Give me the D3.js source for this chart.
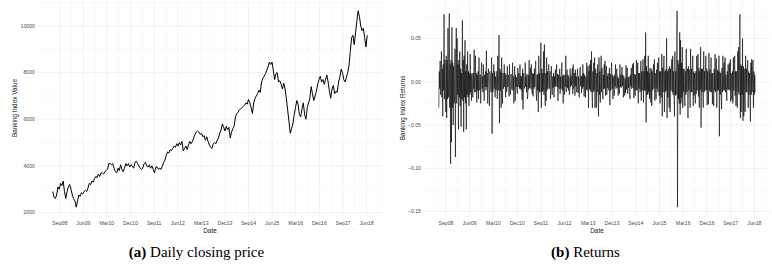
<!DOCTYPE html>
<html>
<head>
<meta charset="utf-8">
<script src="https://cdn.jsdelivr.net/npm/d3@7"></script>
<style>
  body { margin: 0; background: #fff; }
  svg { display: block; }
</style>
</head>
<body>
<div id="chart"></div>
<script>
// first and last trading day shown in both panels
var seriesStart = "2008-06-10";
var seriesEnd = "2018-06-10";

// banking index close, two readings per month (Jun08 .. Jun18)
var closingPrice = [
  2900, 2650, 2600, 2750, 3100, 3000, 3250, 3150, 3350, 2900,
  2600, 2900, 3100, 3200, 3000, 2750, 2600, 2500, 2230, 2500,
  2750, 2700, 2850, 2800, 2900, 2950, 2900, 3050, 3250, 3200,
  3350, 3300, 3450, 3550, 3500, 3650, 3550, 3700, 3700, 3650,
  3750, 3800, 3850, 4100, 4100, 4050, 4100, 3900, 3750, 3700,
  3900, 3800, 4050, 3850, 3750, 3900, 4100, 4000, 4100, 3950,
  4050, 4000, 3900, 4150, 4200, 4100, 4000, 3900, 3850, 3900,
  4100, 4150, 4000, 3950, 4050, 3900, 4000, 3850, 3700, 3950,
  3950, 3850, 3900, 3850, 4000, 4150, 4250, 4450, 4600, 4550,
  4700, 4650, 4750, 4850, 4800, 4950, 4850, 5000, 4900, 5050,
  4650, 4750, 4850, 4700, 4900, 5050, 4950, 5050, 5200, 5350,
  5450, 5500, 5450, 5350, 5400, 5250, 5300, 5100, 5250, 5050,
  4900, 4800, 4750, 4950, 5000, 4950, 5100, 5200, 5400, 5550,
  5800, 5650, 5500, 5700, 5550, 5650, 5200, 5450, 5600, 5700,
  6100, 6250, 6300, 6400, 6450, 6500, 6550, 6600, 6700, 6650,
  6850, 6700, 6500, 6250, 6700, 6900, 7000, 7100, 7250, 7150,
  7600, 7750, 7850, 7950, 8100, 8250, 8450, 8350, 8450, 8100,
  7700, 7950, 8000, 7600, 7650, 7500, 7300, 7550, 7300, 6900,
  6400, 5900, 5400, 5600, 5800, 6200, 6500, 6800, 6650, 6200,
  6100, 6450, 6700, 6200, 6000, 6500, 6700, 6900, 7400, 7100,
  6800, 7000, 7200, 7500, 7700, 7850, 7600, 7700, 7500, 7700,
  7900, 7600, 7200, 6900, 7300, 7450, 7100, 7200, 7150, 7600,
  7800, 8150, 8000, 7700, 7600, 7800, 8000, 8300, 8900, 9500,
  9600, 9200, 9700, 10200, 10650, 10400, 10000, 9800, 9900, 9500,
  9100, 9600
];

// daily returns, six readings per month (Jun08 .. Jun18)
var dailyReturns = [
  -0.030, 0.012, -0.008, 0.024, -0.015, 0.010,   0.035, -0.018, 0.015, -0.040, 0.020, -0.010,
  0.078, -0.020, 0.025, -0.012, -0.035, 0.030,   -0.042, 0.025, -0.020, 0.062, -0.018, 0.015,
  0.079, -0.030, 0.020, -0.095, 0.025, -0.070,   0.063, -0.030, 0.022, -0.050, 0.018, -0.025,
  -0.020, 0.038, -0.087, 0.020, 0.062, -0.025,   0.050, -0.015, 0.020, -0.055, 0.025, -0.018,
  0.035, -0.028, 0.015, -0.052, 0.010, -0.020,   0.071, -0.022, 0.025, -0.058, 0.030, -0.018,
  0.048, -0.025, 0.012, -0.055, 0.020, -0.015,   0.035, -0.018, 0.012, -0.028, 0.010, -0.015,
  0.032, -0.012, 0.008, -0.022, 0.010, -0.006,   -0.018, 0.010, -0.008, 0.037, -0.012, 0.006,
  0.030, -0.012, 0.010, -0.024, 0.008, -0.010,   0.012, -0.020, 0.028, -0.006, -0.010, 0.008,
  -0.025, 0.010, 0.022, -0.008, 0.006, -0.012,   0.020, -0.009, -0.022, 0.008, -0.006, 0.012,
  -0.010, 0.036, -0.006, 0.010, -0.025, 0.008,   0.015, -0.010, -0.028, 0.012, 0.006, -0.008,
  -0.012, 0.028, -0.060, 0.010, -0.012, 0.008,   0.020, -0.008, 0.012, -0.018, 0.006, -0.010,
  -0.008, 0.012, -0.020, 0.030, -0.010, 0.006,   0.054, -0.048, 0.015, -0.010, 0.012, -0.030,
  0.028, -0.012, -0.025, 0.010, -0.008, 0.006,   0.020, -0.006, 0.010, -0.018, 0.008, -0.012,
  -0.010, 0.018, -0.006, 0.008, 0.005, -0.017,   0.020, -0.007, -0.015, 0.006, 0.009, -0.009,
  -0.008, 0.022, -0.010, 0.006, -0.025, 0.006,   0.018, -0.022, 0.008, -0.006, 0.005, -0.010,
  -0.014, 0.016, -0.006, 0.010, 0.005, -0.008,   0.020, -0.008, 0.007, -0.010, 0.006, -0.021,
  0.015, -0.032, 0.010, 0.006, -0.008, -0.005,   0.022, -0.006, 0.006, -0.012, 0.009, -0.020,
  -0.015, 0.008, -0.009, 0.025, -0.007, 0.008,   0.016, -0.008, 0.020, -0.007, -0.014, 0.010,
  -0.017, 0.009, -0.008, 0.015, -0.006, 0.011,   0.024, -0.012, -0.022, 0.008, -0.010, 0.009,
  -0.035, 0.030, -0.012, 0.010, -0.012, 0.018,   0.045, -0.030, 0.015, -0.012, 0.010, -0.010,
  0.035, -0.015, 0.043, -0.012, -0.028, 0.010,   -0.022, 0.028, -0.010, 0.012, -0.008, 0.012,
  0.020, -0.008, 0.008, 0.012, -0.020, -0.006,   0.018, -0.008, -0.015, 0.006, -0.007, 0.010,
  -0.018, 0.006, -0.006, 0.014, -0.005, 0.008,   0.020, -0.006, 0.009, -0.022, 0.008, -0.005,
  -0.008, 0.015, -0.014, 0.006, -0.008, 0.010,   0.022, -0.010, 0.007, -0.025, 0.008, -0.010,
  -0.015, 0.008, -0.006, 0.030, -0.012, 0.006,   0.014, -0.007, 0.008, -0.010, 0.006, -0.015,
  -0.013, 0.015, -0.006, 0.007, -0.004, 0.009,   0.016, -0.014, 0.020, -0.008, -0.005, 0.010,
  -0.016, 0.014, -0.005, 0.006, -0.012, 0.007,   0.015, -0.013, 0.006, -0.008, -0.018, 0.010,
  0.017, -0.005, 0.006, -0.013, 0.007, -0.008,   0.020, -0.006, 0.010, -0.017, 0.008, -0.007,
  -0.018, 0.006, -0.009, 0.022, -0.010, 0.008,   0.018, -0.030, 0.012, -0.008, 0.020, -0.010,
  0.025, -0.012, 0.035, -0.015, -0.030, 0.012,   -0.012, 0.022, -0.010, 0.028, -0.030, 0.015,
  0.014, -0.030, 0.010, -0.012, 0.020, -0.012,   -0.040, 0.028, -0.015, 0.012, -0.024, 0.010,
  0.030, -0.012, 0.016, -0.012, -0.020, 0.008,   -0.008, 0.020, -0.008, 0.024, -0.016, 0.010,
  0.018, -0.015, 0.007, -0.007, 0.010, -0.009,   -0.010, 0.016, -0.027, 0.009, -0.010, 0.012,
  0.022, -0.008, 0.008, -0.020, 0.006, -0.006,   -0.016, 0.008, -0.005, 0.020, -0.008, 0.010,
  0.015, -0.007, 0.006, -0.016, 0.004, -0.009,   -0.014, 0.020, -0.006, 0.008, -0.007, 0.010,
  0.017, -0.005, 0.008, -0.018, 0.006, -0.006,   -0.016, 0.004, -0.013, 0.019, -0.009, 0.008,
  0.016, -0.014, 0.005, -0.007, 0.006, -0.010,   -0.020, 0.008, -0.005, 0.016, -0.008, 0.012,
  0.020, -0.007, 0.022, -0.019, 0.009, -0.010,   -0.016, 0.008, -0.010, 0.025, -0.010, 0.007,
  0.022, -0.025, 0.010, -0.008, 0.010, -0.012,   -0.010, 0.024, -0.022, 0.012, -0.010, 0.012,
  0.026, -0.024, 0.012, -0.010, 0.030, -0.010,   0.057, -0.047, 0.018, -0.015, 0.012, -0.015,
  0.030, -0.012, 0.010, -0.020, 0.016, -0.012,   -0.024, 0.015, -0.028, 0.012, -0.010, 0.014,
  0.020, -0.008, 0.026, -0.022, 0.010, -0.008,   -0.020, 0.014, -0.008, 0.022, -0.012, 0.009,
  0.028, -0.016, 0.012, -0.025, 0.012, -0.014,   -0.018, 0.032, -0.040, 0.016, -0.012, 0.015,
  0.030, -0.035, 0.012, -0.012, 0.014, -0.010,   0.050, -0.042, 0.012, -0.018, 0.015, -0.012,
  -0.030, 0.018, -0.035, 0.015, -0.010, 0.014,   0.026, -0.012, 0.030, -0.015, 0.012, -0.016,
  -0.040, 0.035, -0.016, 0.012, -0.015, 0.018,   0.082, -0.145, 0.025, -0.020, 0.020, -0.025,
  0.057, -0.038, 0.048, -0.025, 0.022, -0.018,   0.040, -0.030, 0.015, -0.012, 0.015, -0.020,
  -0.028, 0.012, -0.015, 0.038, -0.012, 0.010,   0.015, -0.042, 0.018, -0.010, 0.014, -0.010,
  -0.030, 0.038, -0.012, 0.015, -0.012, 0.015,   0.030, -0.028, 0.012, -0.016, 0.010, -0.014,
  -0.025, 0.012, -0.014, 0.030, -0.010, 0.012,   0.032, -0.017, 0.016, -0.030, 0.012, -0.009,
  0.040, -0.053, 0.015, -0.012, 0.015, -0.012,   -0.030, 0.035, -0.012, 0.012, -0.010, 0.014,
  0.030, -0.010, 0.015, -0.027, 0.012, -0.010,   -0.026, 0.033, -0.010, 0.014, -0.012, 0.010,
  0.028, -0.012, 0.010, -0.026, 0.010, -0.014,   -0.028, 0.015, -0.010, 0.032, -0.012, 0.009,
  0.027, -0.030, 0.014, -0.010, 0.012, -0.010,   0.030, -0.063, 0.012, -0.015, 0.010, -0.012,
  -0.032, 0.016, -0.012, 0.030, -0.010, 0.012,   0.022, -0.010, 0.028, -0.012, 0.008, -0.010,
  -0.022, 0.012, -0.009, 0.020, -0.009, 0.010,   0.022, -0.010, 0.026, -0.023, 0.010, -0.008,
  -0.021, 0.012, -0.025, 0.028, -0.010, 0.012,   0.030, -0.016, 0.012, -0.028, 0.012, -0.014,
  -0.030, 0.035, -0.012, 0.040, -0.015, 0.012,   0.078, -0.042, 0.020, -0.035, 0.018, -0.015,
  0.050, -0.045, 0.018, -0.040, 0.015, -0.020,   -0.035, 0.030, -0.012, 0.015, -0.012, 0.014,
  0.025, -0.030, 0.012, -0.015, 0.010, -0.012,   -0.046, 0.022, -0.015, 0.026, -0.012, 0.010,
  0.025, -0.030, 0.012, -0.015, 0.008, -0.012
];

var dateTicks = ["Sep08", "Jun09", "Mar10", "Dec10", "Sep11", "Jun12", "Mar13",
                 "Dec13", "Sep14", "Jun15", "Mar16", "Dec16", "Sep17", "Jun18"];
var priceTicks = [2000, 4000, 6000, 8000, 10000];
var returnTicks = [-0.15, -0.10, -0.05, 0.00, 0.05];

var width = 772, height = 264;
var panelTop = 1, panelBottom = 217;
var parseTick = d3.timeParse("%b%y");
var parseDay = d3.timeParse("%Y-%m-%d");

var svg = d3.select("#chart").append("svg")
  .attr("width", width)
  .attr("height", height);

// evenly spaced trading dates for a series of n readings
function datesFor(n) {
  var t0 = parseDay(seriesStart).getTime(), t1 = parseDay(seriesEnd).getTime();
  return d3.range(n).map(function(i) { return new Date(t0 + i * (t1 - t0) / (n - 1)); });
}

// ggplot-like default expansion of 5% on both ends
function expand(ext) {
  var pad = (ext[1] - ext[0]) * 0.05;
  return [ext[0] - pad, ext[1] + pad];
}

function drawPanel(opts) {
  var dates = datesFor(opts.values.length);
  var points = opts.values.map(function(v, i) { return { date: dates[i], value: v }; });

  var x = d3.scaleTime()
    .domain(expand(d3.extent(dates, function(d) { return d.getTime(); })))
    .range([opts.left, opts.right]);
  var y = d3.scaleLinear()
    .domain(expand(d3.extent(opts.values)))
    .range([panelBottom, panelTop]);

  var g = svg.append("g");

  // minor gridlines sit half way between the majors
  var majorX = dateTicks.map(parseTick);
  var minorX = [];
  majorX.forEach(function(d, i) {
    var next = i < majorX.length - 1 ? majorX[i + 1] : null;
    var prev = i > 0 ? majorX[i - 1] : null;
    if (i === 0) minorX.push(new Date(d.getTime() - (majorX[1] - d) / 2));
    if (next) minorX.push(new Date((d.getTime() + next.getTime()) / 2));
    else minorX.push(new Date(d.getTime() + (d - prev) / 2));
  });
  var step = opts.yTicks[1] - opts.yTicks[0];
  var minorY = opts.yTicks.map(function(v) { return v - step / 2; })
    .concat([opts.yTicks[opts.yTicks.length - 1] + step / 2])
    .filter(function(v) { return v >= y.domain()[0] && v <= y.domain()[1]; });

  g.selectAll(".minor-x").data(minorX).enter().append("line")
    .attr("x1", function(d) { return x(d); }).attr("x2", function(d) { return x(d); })
    .attr("y1", panelTop).attr("y2", panelBottom)
    .attr("stroke", "#f3f3f3").attr("stroke-width", 0.5);
  g.selectAll(".minor-y").data(minorY).enter().append("line")
    .attr("x1", opts.left).attr("x2", opts.right)
    .attr("y1", function(d) { return y(d); }).attr("y2", function(d) { return y(d); })
    .attr("stroke", "#f3f3f3").attr("stroke-width", 0.5);
  g.selectAll(".major-x").data(majorX).enter().append("line")
    .attr("x1", function(d) { return x(d); }).attr("x2", function(d) { return x(d); })
    .attr("y1", panelTop).attr("y2", panelBottom)
    .attr("stroke", "#ebebeb").attr("stroke-width", 0.7);
  g.selectAll(".major-y").data(opts.yTicks).enter().append("line")
    .attr("x1", opts.left).attr("x2", opts.right)
    .attr("y1", function(d) { return y(d); }).attr("y2", function(d) { return y(d); })
    .attr("stroke", "#ebebeb").attr("stroke-width", 0.7);

  var line = d3.line()
    .x(function(d) { return x(d.date); })
    .y(function(d) { return y(d.value); });

  g.append("path")
    .datum(points)
    .attr("d", line)
    .attr("fill", "none")
    .attr("stroke", "#000")
    .attr("stroke-width", opts.strokeWidth)
    .attr("stroke-linejoin", "round");

  // tick labels
  g.selectAll(".xlab").data(majorX).enter().append("text")
    .attr("x", function(d) { return x(d); })
    .attr("y", 225)
    .attr("text-anchor", "middle")
    .attr("font-family", "'Liberation Sans', Arial, sans-serif")
    .attr("font-size", 5.2)
    .attr("fill", "#4d4d4d")
    .text(function(d, i) { return dateTicks[i]; });

  g.selectAll(".ylab").data(opts.yTicks).enter().append("text")
    .attr("x", opts.left - 2)
    .attr("y", function(d) { return y(d) + 1.8; })
    .attr("text-anchor", "end")
    .attr("font-family", "'Liberation Sans', Arial, sans-serif")
    .attr("font-size", 5.2)
    .attr("fill", "#4d4d4d")
    .text(opts.yFormat);

  // axis titles
  g.append("text")
    .attr("x", (opts.left + opts.right) / 2)
    .attr("y", 233)
    .attr("text-anchor", "middle")
    .attr("font-family", "'Liberation Sans', Arial, sans-serif")
    .attr("font-size", 6.4)
    .attr("fill", "#222")
    .text("Date");

  g.append("text")
    .attr("transform", "translate(" + opts.titleX + ",108) rotate(-90)")
    .attr("text-anchor", "middle")
    .attr("font-family", "'Liberation Sans', Arial, sans-serif")
    .attr("font-size", 6.4)
    .attr("fill", "#222")
    .text(opts.yTitle);

  // sub-figure caption
  var cap = g.append("text")
    .attr("x", opts.captionX)
    .attr("y", 256.5)
    .attr("text-anchor", "middle")
    .attr("font-family", "'Liberation Serif', 'Times New Roman', serif")
    .attr("font-size", 15)
    .attr("fill", "#000");
  cap.append("tspan").attr("font-weight", "bold").text(opts.captionTag);
  cap.append("tspan").text(" " + opts.caption);
}

drawPanel({
  values: closingPrice,
  left: 37, right: 383,
  yTicks: priceTicks,
  yFormat: d3.format("d"),
  yTitle: "Banking Index Value",
  titleX: 17,
  strokeWidth: 1.0,
  captionX: 196.5,
  captionTag: "(a)",
  caption: "Daily closing price"
});

drawPanel({
  values: dailyReturns,
  left: 423, right: 771,
  yTicks: returnTicks,
  yFormat: d3.format(".2f"),
  yTitle: "Banking Index Returns",
  titleX: 405,
  strokeWidth: 0.6,
  captionX: 585.5,
  captionTag: "(b)",
  caption: "Returns"
});
</script>
</body>
</html>
